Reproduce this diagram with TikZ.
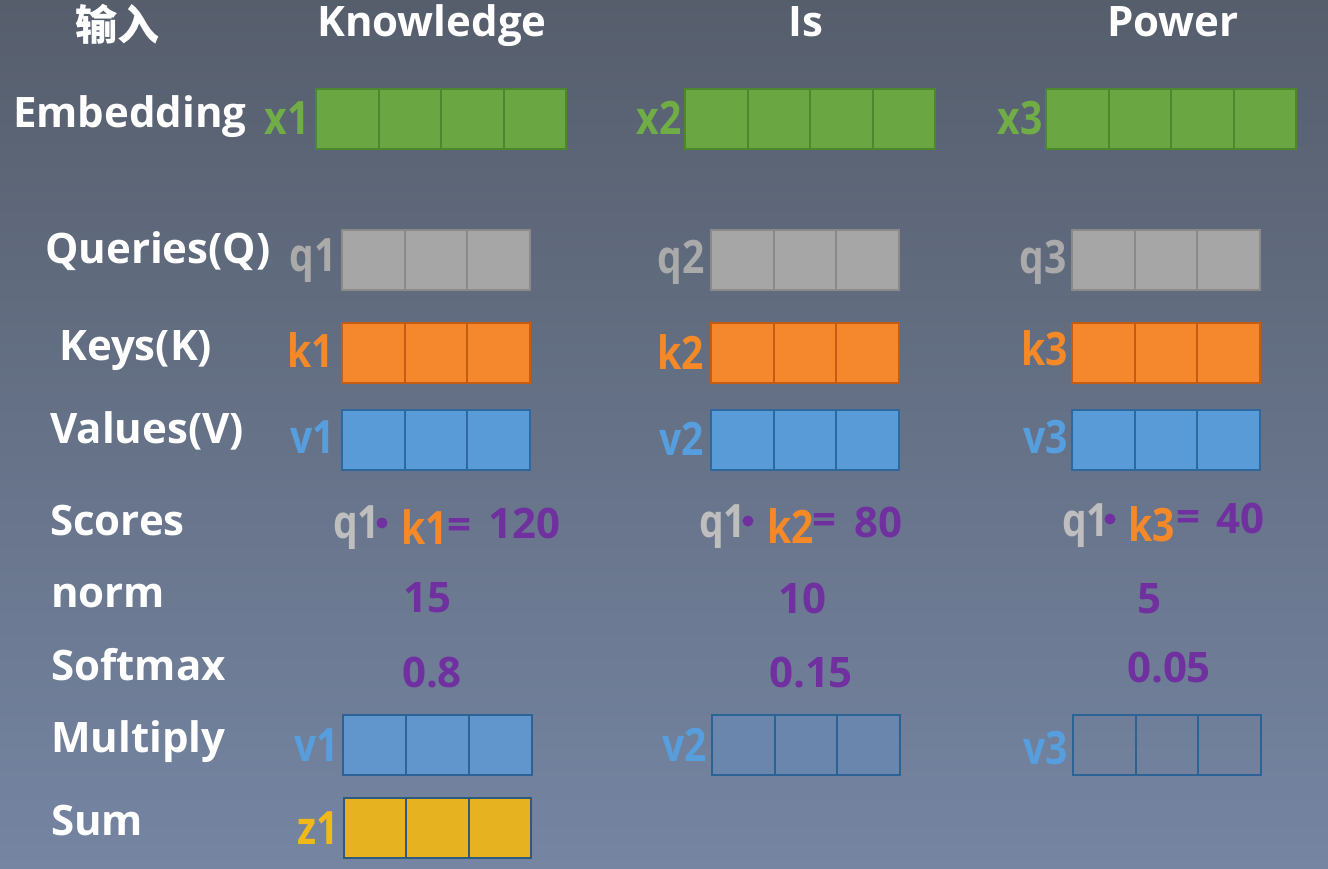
\documentclass[tikz,border=0pt]{standalone}
\usepackage{fontspec}
\setmainfont{Open Sans}
\newfontfamily\cjk{Noto Sans CJK SC}
\definecolor{bgtop}{RGB}{86,94,108}
\definecolor{bgbot}{RGB}{117,133,162}
\definecolor{gfill}{RGB}{106,166,66}
\definecolor{gdraw}{RGB}{78,136,46}
\definecolor{glab}{RGB}{112,173,71}
\definecolor{qfill}{RGB}{166,166,166}
\definecolor{qdraw}{RGB}{138,138,138}
\definecolor{qlab}{RGB}{170,170,170}
\definecolor{qlab2}{RGB}{190,190,190}
\definecolor{ofill}{RGB}{245,135,45}
\definecolor{odraw}{RGB}{196,92,20}
\definecolor{olab}{RGB}{245,137,40}
\definecolor{bfill}{RGB}{88,155,215}
\definecolor{bdraw}{RGB}{46,104,160}
\definecolor{blab}{RGB}{86,158,222}
\definecolor{m1fill}{RGB}{96,150,204}
\definecolor{m2fill}{RGB}{106,134,172}
\definecolor{mdraw}{RGB}{44,98,148}
\definecolor{zfill}{RGB}{230,178,32}
\definecolor{zdraw}{RGB}{45,90,125}
\definecolor{zlab}{RGB}{240,185,25}
\definecolor{purp}{RGB}{112,48,160}
\newcommand\vecrow[6]{%
  \foreach \i in {1,...,#4}
    \node[cell,#5] (#1c\i) at ({#2+(\i-0.5)*#6}, #3) {};}
\begin{document}
\begin{tikzpicture}[x=1pt,y=-1pt,
  cell/.style={draw, rectangle, minimum width=62.5pt, minimum height=60pt, inner sep=0pt, line width=2pt},
  green/.style={fill=gfill, draw=gdraw},
  grayc/.style={fill=qfill, draw=qdraw},
  orangec/.style={fill=ofill, draw=odraw},
  bluec/.style={fill=bfill, draw=bdraw},
  mult1/.style={fill=m1fill, draw=mdraw},
  mult2/.style={fill=m2fill, draw=mdraw},
  mult3/.style={draw=mdraw},
  goldc/.style={fill=zfill, draw=zdraw},
  head/.style={text=white, font=\fontsize{42}{50}\selectfont\bfseries, inner sep=0pt},
  rowlab/.style={text=white, font=\fontsize{42}{50}\selectfont\bfseries, inner sep=0pt, anchor=base west},
  vlab/.style={font=\fontsize{46}{54}\selectfont\bfseries, inner sep=0pt, xscale=0.85, anchor=base east},
  slab/.style={font=\fontsize{46}{54}\selectfont\bfseries, inner sep=0pt, xscale=0.85, anchor=base west},
  num/.style={text=purp, font=\fontsize{42}{50}\selectfont\bfseries, inner sep=0pt, anchor=base},
  dotc/.style={circle, fill=purp, inner sep=0pt, minimum size=11pt}
]
\useasboundingbox (0,0) rectangle (1328,868);
\shade[top color=bgtop, bottom color=bgbot] (0,0) rectangle (1328,868);

% headings
\node[head, anchor=center] (hin) at (117,24) {\cjk\bfseries 输入};
\node[head, anchor=base] (hk) at (432,36) {Knowledge};
\node[head, anchor=base] (hi) at (806,36) {Is};
\node[head, anchor=base] (hp) at (1173,36) {Power};

% row labels
\node[rowlab] (lemb) at (13,127) {Embedding};
\node[rowlab] (lq) at (45,263) {Queries(Q)};
\node[rowlab] (lk) at (59,360) {Keys(K)};
\node[rowlab] (lv) at (50,443) {Values(V)};
\node[rowlab] (ls) at (50,535) {Scores};
\node[rowlab] (ln) at (51,607) {norm};
\node[rowlab] (lsm) at (51,680) {Softmax};
\node[rowlab] (lm) at (51,752) {Multiply};
\node[rowlab] (lsum) at (51,835) {Sum};

% embedding rows
\vecrow{xa}{316}{119}{4}{green}{62.5}
\vecrow{xb}{685}{119}{4}{green}{62.5}
\vecrow{xc}{1046}{119}{4}{green}{62.5}
\node[vlab, text=glab] (lx1) at (310,134) {x1};
\node[vlab, text=glab] (lx2) at (682,134) {x2};
\node[vlab, text=glab] (lx3) at (1043,134) {x3};

% queries
\vecrow{qa}{342}{260}{3}{grayc}{62.67}
\vecrow{qb}{711}{260}{3}{grayc}{62.67}
\vecrow{qc}{1072}{260}{3}{grayc}{62.67}
\node[vlab, text=qlab] (lq1) at (337,271) {q1};
\node[vlab, text=qlab] (lq2) at (705,273) {q2};
\node[vlab, text=qlab] (lq3) at (1067,273) {q3};

% keys
\vecrow{ka}{342}{353}{3}{orangec}{62.67}
\vecrow{kb}{711}{353}{3}{orangec}{62.67}
\vecrow{kc}{1072}{353}{3}{orangec}{62.67}
\node[vlab, text=olab] (lk1) at (334,367) {k1};
\node[vlab, text=olab] (lk2) at (704,369) {k2};
\node[vlab, text=olab] (lk3) at (1068,365) {k3};

% values
\vecrow{va}{342}{440}{3}{bluec}{62.67}
\vecrow{vb}{711}{440}{3}{bluec}{62.67}
\vecrow{vc}{1072}{440}{3}{bluec}{62.67}
\node[vlab, text=blab] (lv1) at (335,453) {v1};
\node[vlab, text=blab] (lv2) at (704,455) {v2};
\node[vlab, text=blab] (lv3) at (1068,453) {v3};

% scores
\node[slab, text=qlab2] (sq1) at (333,538) {q1};
\node[dotc] (sd1) at (382,523) {};
\node[slab, text=olab] (sk1) at (401,544) {k1};
\node[num] (se1) at (459,539) {=};
\node[num] (sv1) at (524,538) {120};

\node[slab, text=qlab2] (sq2) at (699,537) {q1};
\node[dotc] (sd2) at (748,521) {};
\node[slab, text=olab] (sk2) at (767,543) {k2};
\node[num] (se2) at (824,534) {=};
\node[num] (sv2) at (878,537) {80};

\node[slab, text=qlab2] (sq3) at (1062,536) {q1};
\node[dotc] (sd3) at (1110,519) {};
\node[slab, text=olab] (sk3) at (1128,541) {k3};
\node[num] (se3) at (1188,531) {=};
\node[num] (sv3) at (1240,533) {40};

% norm
\node[num] (n1) at (427,612) {15};
\node[num] (n2) at (802,613) {10};
\node[num] (n3) at (1149,613) {5};

% softmax
\node[num] (p1) at (432,687) {0.8};
\node[num] (p2) at (811,687) {0.15};
\node[num] (p3) at (1169,682) {0.05};

% multiply
\vecrow{ma}{343}{745}{3}{mult1}{63}
\vecrow{mb}{712}{745}{3}{mult2}{62.67}
\vecrow{mc}{1073}{745}{3}{mult3}{62.67}
\node[vlab, text=blab] (lm1) at (339,761) {v1};
\node[vlab, text=blab] (lm2) at (707,761) {v2};
\node[vlab, text=blab] (lm3) at (1068,764) {v3};

% sum
\vecrow{za}{344}{828}{3}{goldc}{62.33}
\node[vlab, text=zlab] (lz1) at (339,844) {z1};
\end{tikzpicture}
\end{document}
